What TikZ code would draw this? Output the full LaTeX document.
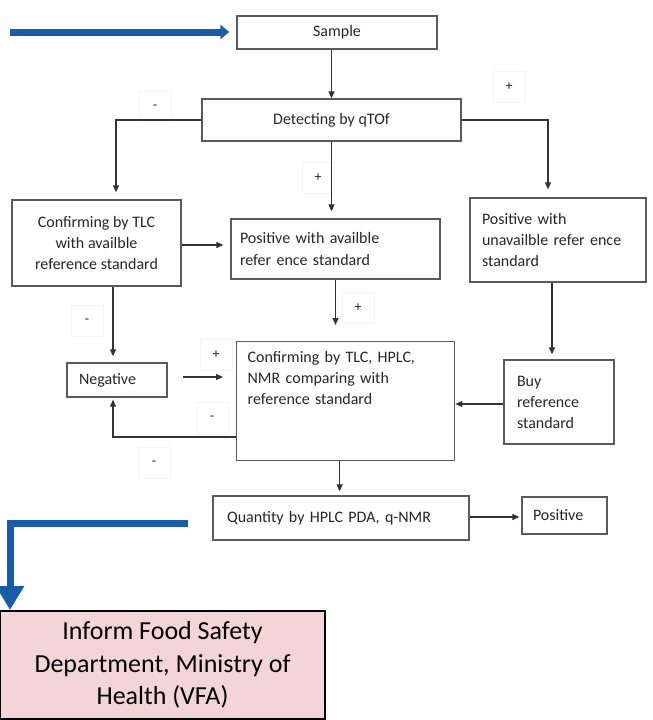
\documentclass[tikz,border=0pt]{standalone}
\usepackage{fontspec}
\setmainfont{Carlito}
\usepackage{xcolor}
\usetikzlibrary{positioning,calc,arrows.meta}
\definecolor{vfablue}{HTML}{1A5DA6}
\definecolor{vfapink}{HTML}{F4D5D7}
\definecolor{boxgray}{HTML}{5A5A5A}

\begin{document}
\begin{tikzpicture}[x=1pt,y=-1pt,
    cbox/.style={draw=boxgray, line width=1.3pt, text=black!85, font=\fontsize{16}{21}\selectfont, inner sep=0pt},
    lbox/.style={cbox, align=left},
    sign/.style={draw=black!4, minimum width=32pt, minimum height=31pt, text=black!85, font=\fontsize{14}{16}\selectfont},
    link/.style={draw=black!80, line width=1.2pt, -{Triangle[length=7pt,width=6pt]}},
    bluelink/.style={draw=vfablue, line width=7pt},
    inform/.style={draw=black, line width=2pt, fill=vfapink, align=center, font=\fontsize{26}{32.5}\selectfont}]
    \useasboundingbox (0,0) rectangle (653,720);
    \node[cbox, minimum width=200pt, minimum height=33pt] (sample) at (337,32.5) {Sample};
    \node[cbox, minimum width=259pt, minimum height=42pt] (detect) at (331.5,120) {Detecting by qTOf};
    \node[cbox, minimum width=169pt, minimum height=86pt, align=center] (tlc) at (96.5,243) {Confirming by TLC\\with availble\\reference standard};
    \node[lbox, text width=191pt, inner xsep=9pt, minimum height=60pt] (pavail) at (335.5,249) {Positive with availble\\refer ence standard};
    \node[lbox, text width=152pt, inner xsep=12pt, minimum height=84pt] (punav) at (558,240) {Positive with\\unavailble refer ence\\standard};
    \node[lbox, text width=76pt, inner xsep=12pt, minimum height=34pt] (neg) at (117,380) {Negative};
    \node[lbox, anchor=north west, text width=196pt, inner xsep=11pt, inner ysep=9pt, text height=12pt, text depth=89pt] (confirm) at (236,341) {Confirming by TLC, HPLC,\\NMR comparing with\\reference standard};
    \node[lbox, text width=84pt, inner xsep=13pt, minimum height=84pt] (buy) at (559,402) {Buy\\reference\\standard};
    \node[lbox, text width=228pt, inner xsep=14pt, minimum height=44pt] (quant) at (341,518) {Quantity by HPLC PDA, q-NMR};
    \node[lbox, text width=63pt, inner xsep=11pt, minimum height=37pt] (pos) at (564.5,515.5) {Positive};
    \node[inform, minimum width=325pt, minimum height=108pt] (inform) at (162.5,665) {Inform Food Safety\\Department, Ministry of\\Health (VFA)};
    \node[sign] (neg1) at (155,107) {-}; \node[sign] (pos1) at (509,87) {+}; \node[sign] (pos2) at (318,178) {+};
    \node[sign] (neg2) at (87,321) {-}; \node[sign] (pos3) at (358,308) {+}; \node[sign] (pos4) at (216,355) {+};
    \node[sign] (neg3) at (212,418) {-}; \node[sign] (neg4) at (154,463) {-};
    \coordinate (bluein) at (10,32); \coordinate (blueout) at (188,523);
    \draw[bluelink, -{Triangle[length=9pt,width=14pt]}, shorten >=7pt] (bluein) -- (bluein -| sample.west);
    \draw[bluelink, -{Triangle[length=24pt,width=27pt]}] (blueout) -| ([xshift=11pt]inform.north west);
    \draw[link] (detect.north |- sample.south) -- (detect.north);
    \draw[link, shorten >=7pt] (detect.west) -| ([xshift=19.5pt]tlc.north);
    \draw[link, shorten >=8pt] (detect.east) -| ([xshift=-10pt]punav.north);
    \draw[link, shorten >=7pt] (detect.south) -- (detect.south |- pavail.north);
    \draw[link, shorten >=7pt] ([yshift=-2pt]tlc.east) -- ([yshift=-2pt]tlc.east -| pavail.west);
    \draw[link, shorten >=16pt] (pavail.south) -- (pavail.south |- confirm.north);
    \draw[link, shorten >=6pt] ([xshift=-4pt]neg.north |- tlc.south) -- ([xshift=-4pt]neg.north);
    \draw[link, shorten <=15pt, shorten >=13pt] ([yshift=3pt]neg.east) -- ([yshift=3pt]neg.east -| confirm.west);
    \draw[link, shorten >=2pt] ([yshift=-96pt]confirm.north west) -| ([xshift=-4pt]neg.south);
    \draw[link] ([yshift=-2pt]buy.west) -- ([yshift=-2pt]buy.west -| confirm.east);
    \draw[link, shorten >=5pt] ([xshift=-7pt]buy.north |- punav.south) -- ([xshift=-7pt]buy.north);
    \draw[link, shorten >=4pt] ([xshift=-6pt]confirm.south) -- ([xshift=-6pt]confirm.south |- quant.north);
    \draw[link, shorten >=2pt] ([yshift=1pt]quant.east) -- ([yshift=1pt]quant.east -| pos.west);
\end{tikzpicture}
\end{document}
